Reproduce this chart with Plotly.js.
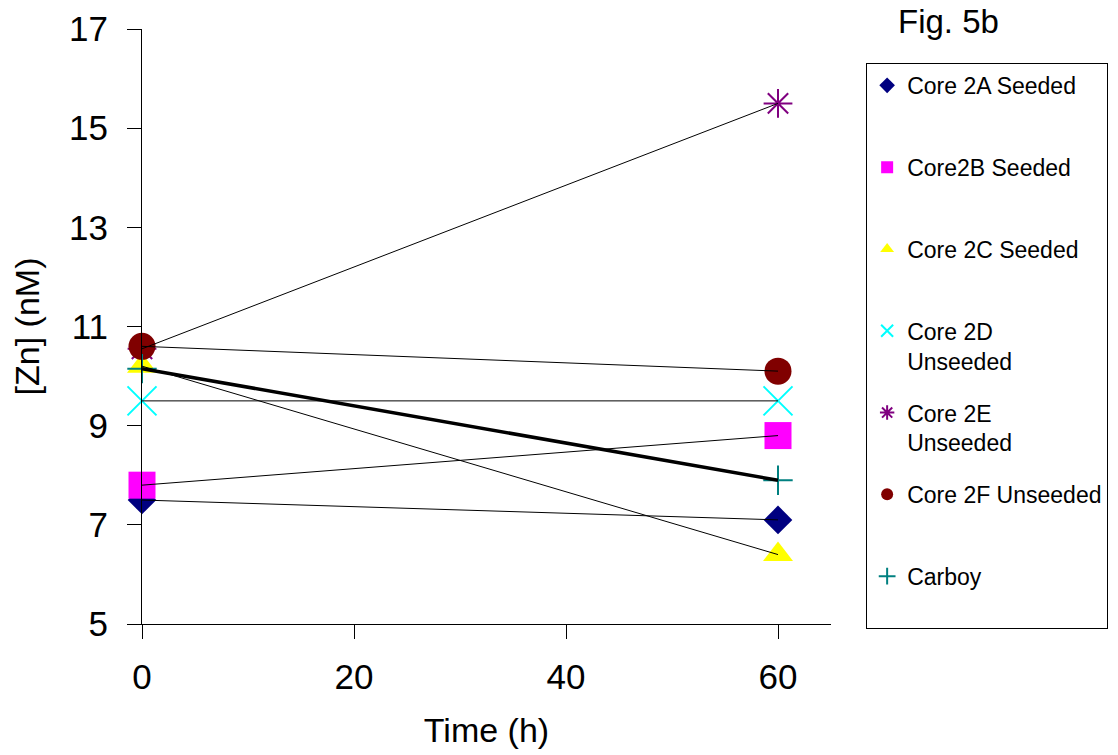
<!DOCTYPE html>
<html>
<head>
<meta charset="utf-8">
<script src="https://cdn.plot.ly/plotly-3.0.1.min.js"></script>
<style>html,body{margin:0;padding:0;background:#fff}#chart{width:1118px;height:755px}</style>
</head>
<body>
<div id="chart"></div>
<script>
const times = [0, 60];
const seriesNames = ["Core 2A Seeded", "Core2B Seeded", "Core 2C Seeded", "Core 2D<br>Unseeded", "Core 2E<br>Unseeded", "Core 2F Unseeded", "Carboy"];
const core2A = [7.5, 7.1];
const core2B = [7.8, 8.8];
const core2C = [10.2, 6.4];
const core2D = [9.5, 9.5];
const core2E = [10.55, 15.5];
const core2F = [10.6, 10.1];
const carboy = [10.15, 7.9];
const xTicks = [0, 20, 40, 60];
const yTicks = [5, 7, 9, 11, 13, 15, 17];

const seriesValues = [core2A, core2B, core2C, core2D, core2E, core2F, carboy];
const styles = [
  {symbol: "diamond", color: "#000080", size: 22},
  {symbol: "square", color: "#FF00FF", size: 27},
  {symbol: "triangle-up", color: "#FFFF00", size: 26},
  {symbol: "x-thin-open", color: "#00FFFF", size: 29, lw: 2},
  {symbol: "asterisk-open", color: "#800080", size: 24, lw: 2},
  {symbol: "circle", color: "#800000", size: 27},
  {symbol: "cross-thin-open", color: "#008080", size: 21, lw: 2}
];

const traces = [];
seriesValues.forEach((vals, i) => {
  const s = styles[i];
  const lbl = seriesNames[i].includes("<br>") ? seriesNames[i] : seriesNames[i] + "<br>&nbsp;";
  traces.push({
    x: times, y: vals, type: "scatter", mode: "markers", name: lbl,
    legendgroup: "g" + i, cliponaxis: false,
    marker: {symbol: s.symbol, color: s.color, size: s.size,
             line: {color: s.color, width: s.lw || 0}}
  });
});
seriesValues.forEach((vals, i) => {
  traces.push({
    x: times, y: vals, type: "scatter", mode: "lines", showlegend: false,
    legendgroup: "g" + i, cliponaxis: false,
    line: {color: "#000000", width: i === 6 ? 3.5 : 1}
  });
});

const layout = {
  width: 1118, height: 755,
  margin: {l: 142, r: 287, t: 29, b: 131, autoexpand: false},
  paper_bgcolor: "#ffffff", plot_bgcolor: "#ffffff",
  font: {family: "Liberation Sans, Arial, sans-serif", color: "#000"},
  showlegend: true,
  legend: {
    x: 1.051, y: 0.943, xanchor: "left", yanchor: "top",
    bordercolor: "#000", borderwidth: 1, bgcolor: "#fff",
    font: {size: 23, family: "Liberation Sans, Arial, sans-serif"},
    valign: "top", itemsizing: "constant", tracegroupgap: 19,
    entrywidth: 200
  },
  xaxis: {
    range: [0, 65], tickvals: xTicks, ticks: "outside", ticklen: 14,
    tickcolor: "#000", showline: true, linecolor: "#000", linewidth: 1,
    showgrid: false, zeroline: false, tickfont: {size: 35},
    ticklabelstandoff: 8,
    title: {text: "Time (h)", font: {size: 34}, standoff: 23}
  },
  yaxis: {
    range: [5, 17], tickvals: yTicks, ticks: "outside", ticklen: 14,
    tickcolor: "#000", showline: true, linecolor: "#000", linewidth: 1,
    showgrid: false, zeroline: false, tickfont: {size: 35},
    ticklabelstandoff: 12,
    title: {text: "[Zn] (nM)", font: {size: 34}, standoff: 19}
  },
  annotations: [{
    text: "Fig. 5b", xref: "paper", yref: "paper", x: 1.171, y: 1.013,
    xanchor: "center", yanchor: "middle", showarrow: false,
    font: {size: 33}
  }]
};

Plotly.newPlot("chart", traces, layout, {displayModeBar: false});
</script>
</body>
</html>
